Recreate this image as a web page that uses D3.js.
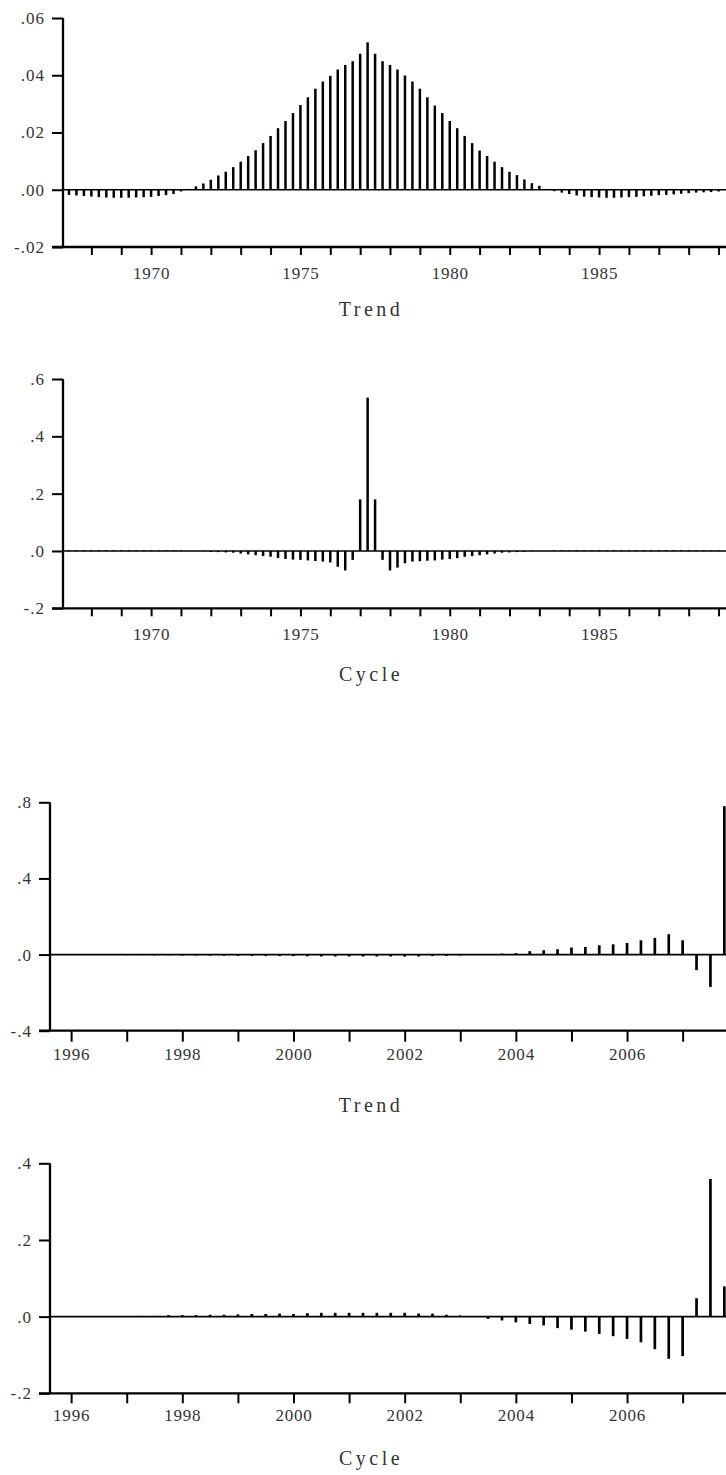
<!DOCTYPE html>
<html>
<head>
<meta charset="utf-8">
<script src="https://cdn.jsdelivr.net/npm/d3@7"></script>
<style>
html,body{margin:0;padding:0;background:#fff;}
svg{display:block;}
svg text{font-family:"Liberation Serif","Times New Roman",Times,serif !important;fill:#333;}
</style>
</head>
<body>
<svg id="chart" width="726" height="1475"></svg>
<script>
// ---------- DATA ----------
// Panel A (1967-1989), quarterly weights, first quarter 1967Q2
const trend1Start = 1967.25;
const trend1Values = [
 -0.0018,-0.0020,-0.0022,-0.0024,-0.0026,-0.0027,-0.0028,-0.0028,-0.0028,-0.0027,-0.0026,-0.0025,-0.0022,-0.0019,-0.0015,
 -0.0006, 0.0003, 0.0012, 0.0022, 0.0035, 0.0050, 0.0063, 0.0079, 0.0098, 0.0118, 0.0138, 0.0163, 0.0188, 0.0215, 0.0240,
  0.0268, 0.0296, 0.0323, 0.0353, 0.0378, 0.0398, 0.0420, 0.0436, 0.0449, 0.0475, 0.0515, 0.0475, 0.0449, 0.0436, 0.0420,
  0.0399, 0.0378, 0.0353, 0.0323, 0.0294, 0.0268, 0.0240, 0.0215, 0.0188, 0.0163, 0.0137, 0.0118, 0.0098, 0.0079, 0.0063,
  0.0051, 0.0036, 0.0023, 0.0014, 0.0003,-0.0005,-0.0010,-0.0015,-0.0020,-0.0024,-0.0026,-0.0027,-0.0028,-0.0028,-0.0027,
 -0.0026,-0.0025,-0.0023,-0.0021,-0.0019,-0.0018,-0.0016,-0.0014,-0.0012,-0.0010,-0.0009,-0.0008,-0.0006
];
const cycle1Start = 1967.25;
const cycle1Values = [
  0.003, 0.003, 0.003, 0.003, 0.003, 0.003, 0.003, 0.003, 0.003, 0.003, 0.003, 0.003, 0.002, 0.002, 0.002, 0.002,
  0.001, 0.000,-0.001,-0.003,-0.004,-0.005,-0.006,-0.009,-0.012,-0.015,-0.018,-0.020,-0.025,-0.028,-0.030,-0.031,
 -0.033,-0.035,-0.037,-0.040,-0.055,-0.068,-0.031, 0.180, 0.535, 0.180,-0.031,-0.068,-0.058,-0.043,-0.037,-0.036,
 -0.034,-0.033,-0.030,-0.028,-0.025,-0.020,-0.018,-0.015,-0.012,-0.009,-0.006,-0.005,-0.004,-0.003,-0.001, 0.000,
  0.001, 0.002, 0.002, 0.002, 0.003, 0.003, 0.003, 0.003, 0.003, 0.003, 0.003, 0.003, 0.003, 0.003, 0.003, 0.003,
  0.003, 0.003, 0.003, 0.003, 0.003, 0.002, 0.002, 0.002
];
// Panel B (1996-2007), quarterly weights
const trend2Start = 1997.0;
const trend2Values = [
 -0.003,-0.003,-0.004,-0.004,-0.005,-0.005,-0.005,-0.006,-0.007,-0.007,-0.007,-0.008,-0.008,-0.009,-0.010,-0.010,
 -0.010,-0.010,-0.010,-0.010,-0.011,-0.010,-0.008,-0.007,-0.005, 0.000, 0.003, 0.005, 0.008, 0.018, 0.023, 0.028,
  0.037, 0.040, 0.049, 0.054, 0.061, 0.075, 0.088, 0.107, 0.075,-0.082,-0.170, 0.780
];
const cycle2Start = 1997.25;
const cycle2Values = [
  0.002, 0.002, 0.004, 0.004, 0.004, 0.005, 0.005, 0.006, 0.007, 0.007, 0.008, 0.007, 0.009, 0.010, 0.010, 0.010,
  0.010, 0.010, 0.010, 0.010, 0.008, 0.008, 0.005, 0.003, 0.000,-0.006,-0.010,-0.015,-0.019,-0.023,-0.030,-0.034,
 -0.039,-0.045,-0.051,-0.058,-0.067,-0.085,-0.110,-0.103, 0.048, 0.359, 0.079
];

const xDomainA = [1967.05, 1989.25];
const xTicksA = [1968,1969,1970,1971,1972,1973,1974,1975,1976,1977,1978,1979,1980,1981,1982,1983,1984,1985,1986,1987,1988,1989];
const xLabelsA = [1970, 1975, 1980, 1985];
const xDomainB = [1995.62, 2007.78];
const xTicksB = [1996,1997,1998,1999,2000,2001,2002,2003,2004,2005,2006,2007];
const xLabelsB = [1996, 1998, 2000, 2002, 2004, 2006];

const yDomain1 = [-0.02, 0.06], yTicks1 = [-0.02, 0, 0.02, 0.04, 0.06], yLabels1 = ["-.02", ".00", ".02", ".04", ".06"];
const yDomain2 = [-0.2, 0.6],   yTicks2 = [-0.2, 0, 0.2, 0.4, 0.6],     yLabels2 = ["-.2", ".0", ".2", ".4", ".6"];
const yDomain3 = [-0.4, 0.8],   yTicks3 = [-0.4, 0, 0.4, 0.8],          yLabels3 = ["-.4", ".0", ".4", ".8"];
const yDomain4 = [-0.2, 0.4],   yTicks4 = [-0.2, 0, 0.2, 0.4],          yLabels4 = ["-.2", ".0", ".2", ".4"];

const titles = ["Trend", "Cycle", "Trend", "Cycle"];

// ---------- DRAW ----------
const FONT = '"Liberation Serif","Times New Roman",Times,serif';
const svg = d3.select("#chart");

function panel(o) {
  const g = svg.append("g");
  const x = d3.scaleLinear().domain(o.xDomain).range([o.left, 726]);
  const y = d3.scaleLinear().domain(o.yDomain).range([o.bottom, o.top]);
  const data = o.values.map((v, i) => ({t: o.start + i * 0.25, v}));

  // bars
  g.selectAll("line.bar").data(data).join("line")
    .attr("class", "bar")
    .attr("x1", d => x(d.t)).attr("x2", d => x(d.t))
    .attr("y1", y(0)).attr("y2", d => y(d.v))
    .attr("stroke", "#000").attr("stroke-width", o.barW);

  // zero line
  g.append("line").attr("x1", o.left).attr("x2", 726)
    .attr("y1", y(0)).attr("y2", y(0))
    .attr("stroke", "#000").attr("stroke-width", 1.7);

  // y axis
  const ya = d3.axisLeft(y).tickValues(o.yTicks)
    .tickFormat((d, i) => o.yLabels[i]).tickSize(11).tickPadding(7);
  const yg = g.append("g").attr("transform", `translate(${o.left},0)`).call(ya)
    .attr("font-family", FONT).attr("font-size", 17);
  yg.select(".domain").remove();
  yg.append("line").attr("x1", 0).attr("x2", 0).attr("y1", o.top).attr("y2", o.bottom)
    .attr("stroke", "#000").attr("stroke-width", 2.3);
  yg.selectAll(".tick line").attr("stroke", "#000").attr("stroke-width", 2);
  yg.selectAll(".tick text").style("letter-spacing", "1px").attr("fill", "#333");

  // x axis
  const xa = d3.axisBottom(x).tickValues(o.xTicks)
    .tickFormat(d => o.xLabels.includes(d) ? String(d) : "")
    .tickSize(o.xTick).tickPadding(o.xPad);
  const xg = g.append("g").attr("transform", `translate(0,${o.bottom})`).call(xa)
    .attr("font-family", FONT).attr("font-size", 17);
  xg.select(".domain").remove();
  xg.append("line").attr("x1", o.left - 11).attr("x2", 726).attr("y1", 0).attr("y2", 0)
    .attr("stroke", "#000").attr("stroke-width", 2.3);
  xg.selectAll(".tick line").attr("stroke", "#000").attr("stroke-width", 2);
  xg.selectAll(".tick text").style("letter-spacing", "0.8px").attr("fill", "#333");

  // title
  g.append("text").attr("x", 371).attr("y", o.titleY)
    .attr("text-anchor", "middle")
    .attr("font-family", FONT).attr("font-size", 20)
    .style("letter-spacing", "3.5px")
    .text(o.title);
}

panel({values: trend1Values, start: trend1Start, xDomain: xDomainA, xTicks: xTicksA, xLabels: xLabelsA,
  yDomain: yDomain1, yTicks: yTicks1, yLabels: yLabels1, left: 63, top: 18, bottom: 247,
  barW: 2.5, xTick: 8, xPad: 12, title: titles[0], titleY: 316});
panel({values: cycle1Values, start: cycle1Start, xDomain: xDomainA, xTicks: xTicksA, xLabels: xLabelsA,
  yDomain: yDomain2, yTicks: yTicks2, yLabels: yLabels2, left: 63, top: 379, bottom: 608.3,
  barW: 2.5, xTick: 8, xPad: 12, title: titles[1], titleY: 681});
panel({values: trend2Values, start: trend2Start, xDomain: xDomainB, xTicks: xTicksB, xLabels: xLabelsB,
  yDomain: yDomain3, yTicks: yTicks3, yLabels: yLabels3, left: 50, top: 802.3, bottom: 1030.7,
  barW: 2.7, xTick: 11, xPad: 6, title: titles[2], titleY: 1112});
panel({values: cycle2Values, start: cycle2Start, xDomain: xDomainB, xTicks: xTicksB, xLabels: xLabelsB,
  yDomain: yDomain4, yTicks: yTicks4, yLabels: yLabels4, left: 50, top: 1163.3, bottom: 1393.3,
  barW: 2.7, xTick: 10, xPad: 6, title: titles[3], titleY: 1465});
</script>
</body>
</html>
